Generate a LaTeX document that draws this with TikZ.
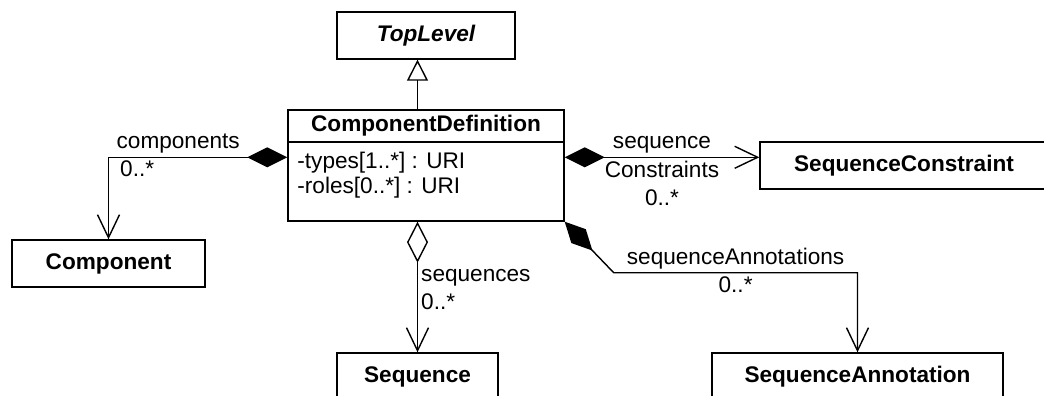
\documentclass[tikz,border=0pt]{standalone}
\usepackage{fontspec}
\setmainfont{Liberation Sans}
\usetikzlibrary{positioning,arrows.meta,calc}

\tikzset{
  classbox/.style={draw, line width=0.7pt, fill=white, font=\fontsize{11.3}{14}\selectfont\bfseries, inner sep=0pt, minimum height=23.5pt},
  assoc/.style={line width=0.7pt},
  lbl/.style={inner sep=1.5pt},
  comp/.style={{Diamond[length=20pt,width=10pt]}-{Straight Barb[length=11.5pt,width=11pt]}},
  aggr/.style={{Diamond[open,length=20.5pt,width=10.5pt]}-{Straight Barb[length=11.5pt,width=11pt]}},
}

\begin{document}
\begin{tikzpicture}[x=0.5pt, y=-0.5pt, font=\fontsize{11.3}{14}\selectfont]
        % page frame
        \useasboundingbox (0,0) rectangle (1044,396);
        \fill[white] (0,0) rectangle (1044,396);
        \clip (0,0) rectangle (1044,396);
        % classes
        \node[classbox, minimum width=89pt, font=\fontsize{11.3}{14}\selectfont\bfseries\itshape] (tl) at (426,35.5) {TopLevel};
        \node[classbox, minimum width=138pt, minimum height=16pt] (cdhead) at (426,126) {ComponentDefinition};
        \node[classbox, minimum width=138pt, minimum height=39.5pt] (cdbody) at (426,181.5) {};
        \node[anchor=west, inner sep=0pt] (attrtypes) at (297,163) {-types[1..*] : URI};
        \node[anchor=west, inner sep=0pt] (attrroles) at (297,188) {-roles[0..*] : URI};
        \node[classbox, minimum width=96.5pt] (comp) at (108.5,263.5) {Component};
        \node[classbox, minimum width=144pt] (sc) at (904,165.5) {SequenceConstraint};
        \node[classbox, minimum width=80.5pt] (seq) at (417.5,376.5) {Sequence};
        \node[classbox, minimum width=145.5pt] (sa) at (857.5,376.5) {SequenceAnnotation};
        % generalization
        \draw[assoc, -{Triangle[open,length=10.5pt,width=10.5pt]}] (cdhead.north -| seq.north) -- (tl.south -| seq.north);
        % associations
        \coordinate (compstart) at ($(cdbody.north west)+(0,16)$);
        \coordinate (scstart) at ($(cdbody.north east)+(0,16)$);
        \draw[assoc, comp] (compstart) -| (comp.north)
          node[lbl, pos=0.305, above] {components}
          node[lbl, pos=0.5, anchor=north west, xshift=4pt] {0..*};
        \draw[assoc, comp] (scstart) -- (scstart -| sc.west)
          node[lbl, midway, above] {sequence}
          node[lbl, midway, below, align=center] {Constraints\\0..*};
        \draw[assoc, aggr] (cdbody.south -| seq.north) -- (seq.north)
          node[lbl, pos=0.52, right, align=left] {sequences\\0..*};
        \draw[assoc, comp] (cdbody.south east) -- ++(49,51) -| (sa.north)
          node[lbl, pos=0.25, above] {sequenceAnnotations}
          node[lbl, pos=0.25, below] {0..*};
    \end{tikzpicture}
\end{document}
